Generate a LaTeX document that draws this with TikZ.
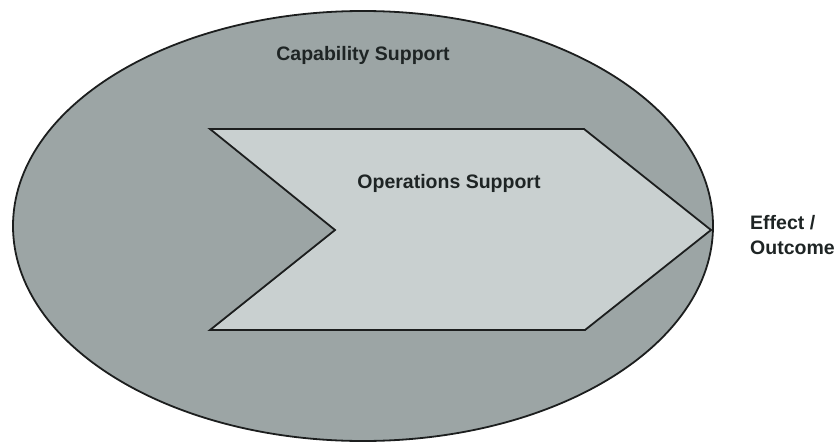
\documentclass[tikz,border=0pt]{standalone}
\usepackage{fontspec}
\setmainfont{Liberation Sans}
\usetikzlibrary{shapes.geometric}
\definecolor{outerfill}{HTML}{9CA5A5}
\definecolor{innerfill}{HTML}{C9D0D0}
\definecolor{inkline}{HTML}{1C1E1E}
\definecolor{inktext}{HTML}{1E2424}
\tikzset{
  outline/.style={draw=inkline, line width=1.8pt, line join=miter},
  lbl/.style={font=\bfseries\fontsize{19.5}{23}\selectfont, text=inktext, inner sep=0pt}
}
\begin{document}
\begin{tikzpicture}[x=1pt,y=-1pt]
\useasboundingbox (0,0) rectangle (840,444);
\node[ellipse, outline, fill=outerfill, minimum width=700pt, minimum height=430pt, inner sep=0pt] (cap) at (363,226) {};
\coordinate (c1) at (210,129);
\coordinate (c2) at (584,129);
\coordinate (c3) at (711,230);
\coordinate (c4) at (585,330);
\coordinate (c5) at (210,330);
\coordinate (c6) at (335,230);
\draw[outline, fill=innerfill] (c1) -- (c2) -- (c3) -- (c4) -- (c5) -- (c6) -- cycle;
\node[lbl] (captxt) at (363,55) {Capability Support};
\node[lbl] (optxt) at (449,183) {Operations Support};
\node[lbl, anchor=west, align=left, font=\bfseries\fontsize{19.5}{25}\selectfont] (eff) at (750,235) {Effect /\\Outcome};
\end{tikzpicture}
\end{document}
